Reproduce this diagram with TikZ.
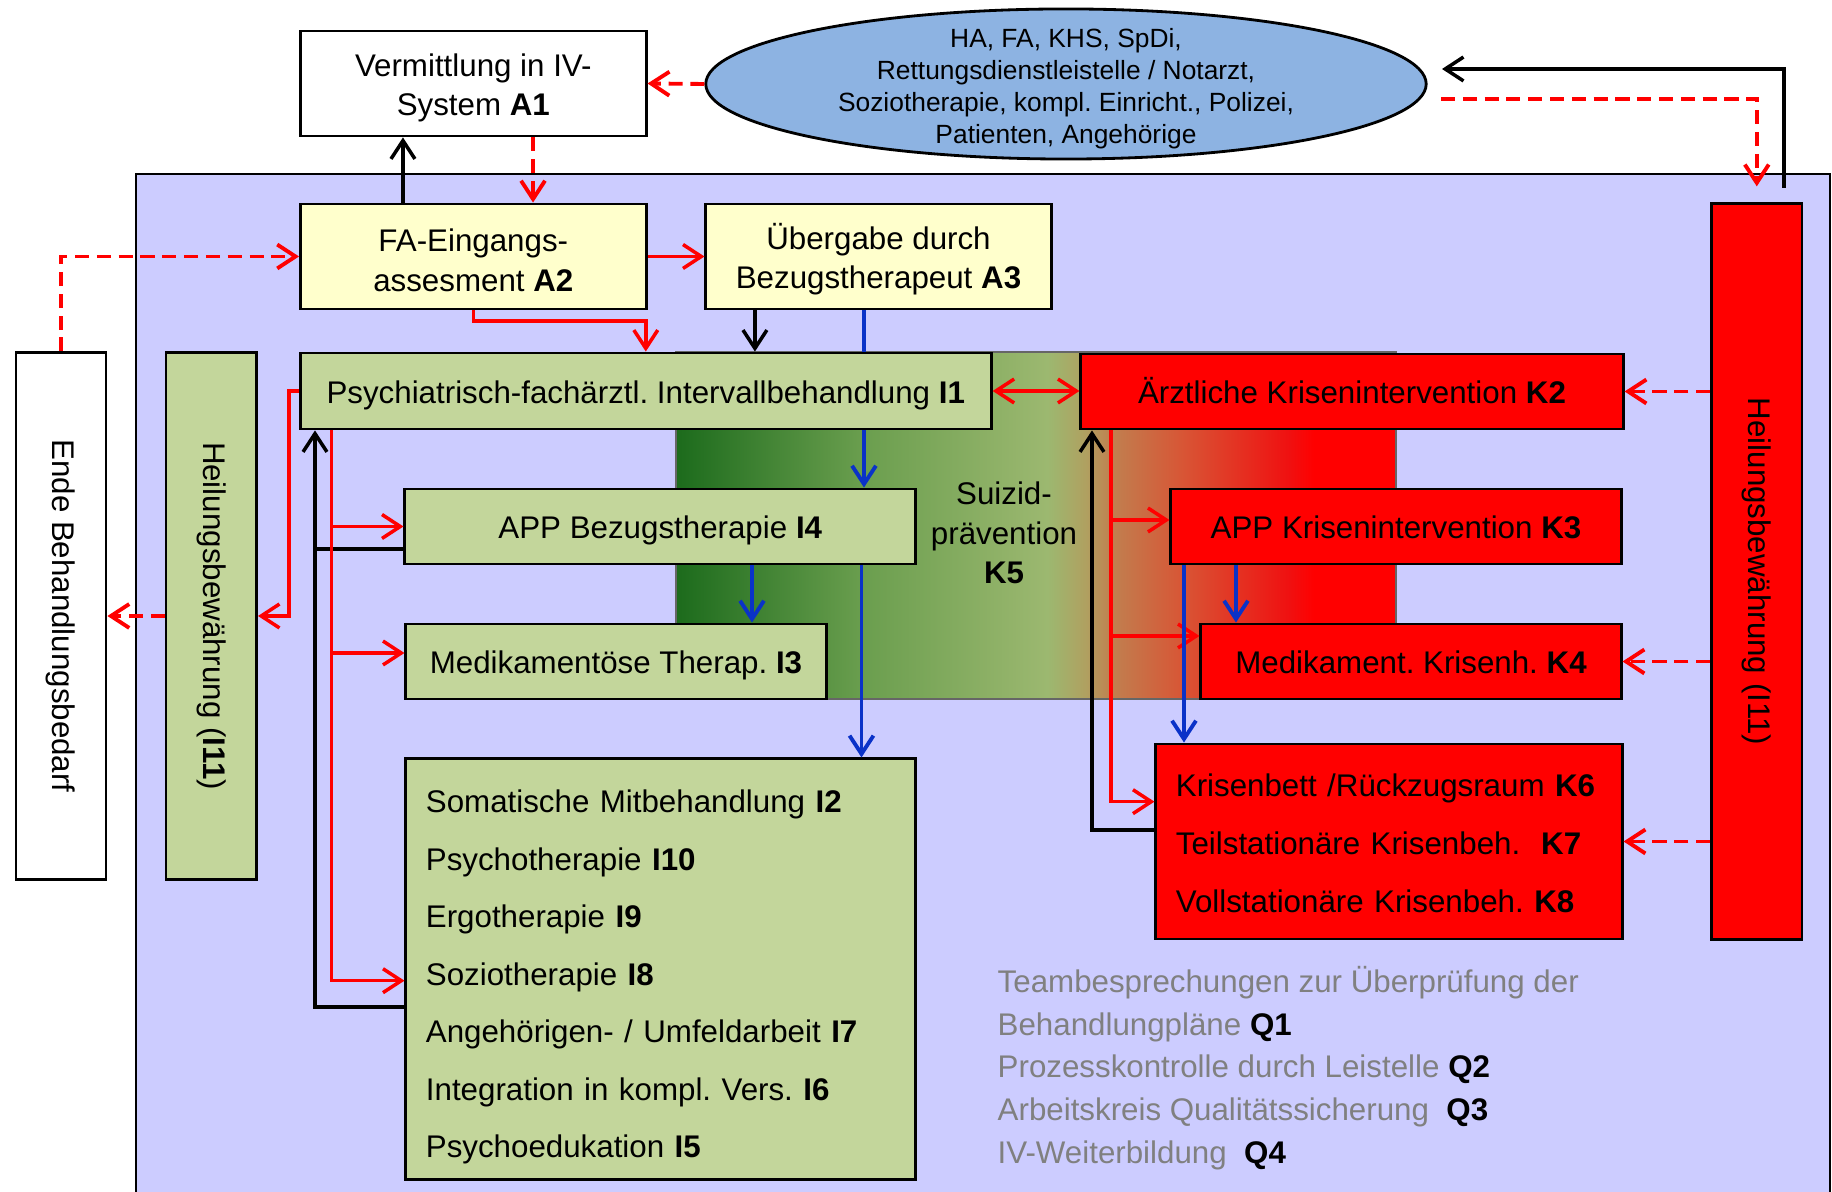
\documentclass[tikz,border=0pt]{standalone}
\usepackage{fontspec}
\setmainfont{Liberation Sans}
\usepackage{graphicx}
\usetikzlibrary{arrows.meta,shapes.geometric}
\definecolor{panelc}{HTML}{CCCCFF}
\definecolor{ellc}{HTML}{8DB3E2}
\definecolor{yelc}{HTML}{FFFFCC}
\definecolor{grnc}{HTML}{C3D69B}
\definecolor{bluec}{HTML}{0A32C8}
\definecolor{qgray}{HTML}{808080}
\definecolor{kA}{HTML}{1C6B1C}
\definecolor{kB}{HTML}{6A9E4E}
\definecolor{kC}{HTML}{9CB870}
\definecolor{kD}{HTML}{B0A060}
\definecolor{kE}{HTML}{C08050}
\definecolor{kF}{HTML}{D85535}
\definecolor{kG}{HTML}{F01010}
\pgfdeclarehorizontalshading{kfive}{100bp}{color(0bp)=(kA); color(25bp)=(kA); color(37.9bp)=(kB); color(50.8bp)=(kC); color(53.5bp)=(kD); color(55.2bp)=(kE); color(60.2bp)=(kF); color(67.6bp)=(kG); color(69.3bp)=(red); color(100bp)=(red)}
\pgfdeclarelayer{back}
\pgfdeclarelayer{mid}
\pgfsetlayers{back,mid,main}
\newcommand{\fmain}{\fontsize{8.9}{11.3}\selectfont}
\newcommand{\topstrut}[1]{\rule{0pt}{#1}}
\begin{document}
\frenchspacing
\begin{tikzpicture}[x=0.01cm,y=-0.01cm,
  >={Straight Barb[length=5.2pt,width=6.8pt]},
  boxs/.style={draw=black,line width=0.8pt,inner sep=0pt,align=center,font=\fmain},
  one/.style={text height=8pt,text depth=0.9pt},
  ybox/.style={boxs,fill=yelc},
  gbox/.style={boxs,fill=grnc},
  rbox/.style={boxs,fill=red},
  wbox/.style={boxs,fill=white},
  rline/.style={draw=red,line width=1pt},
  rdash/.style={draw=red,line width=1.1pt,dash pattern=on 4pt off 2.2pt},
  bline/.style={draw=black,line width=1pt},
  bluel/.style={draw=bluec,line width=1.1pt}]
\useasboundingbox (0,0) rectangle (1832,1192);
\clip (0,0) rectangle (1832,1192);
\begin{pgfonlayer}{back}
  \fill[panelc] (136,174) rectangle (1830,1210);
  \draw[line width=0.8pt] (136,1210) -- (136,174) -- (1830,174) -- (1830,1210);
  \path[shading=kfive,draw=black!60,line width=0.4pt] (676,352) rectangle (1396,699);
\end{pgfonlayer}
% nodes
\node[wbox,minimum width=3.455cm,minimum height=1.05cm] (a1) at (473.3,83.5) {\topstrut{9pt}Vermittlung in IV-\\System \textbf{A1}};
\node[ellipse,draw=black,line width=0.8pt,fill=ellc,minimum width=7.2cm,minimum height=1.5cm,inner xsep=0pt,inner ysep=-0.15cm,align=center,font=\fontsize{7.5}{9.1}\selectfont] (ell) at (1066,84) {\topstrut{8pt}HA, FA, KHS, SpDi,\\Rettungsdienstleistelle / Notarzt,\\Soziotherapie, kompl. Einricht., Polizei,\\Patienten, Angehörige};
\node[ybox,minimum width=3.455cm,minimum height=1.05cm] (a2) at (473.3,256.5) {\topstrut{8.5pt}FA-Eingangs-\\assesment \textbf{A2}};
\node[ybox,minimum width=3.45cm,minimum height=1.05cm] (a3) at (878.5,256.5) {\topstrut{9pt}Übergabe durch\\Bezugstherapeut \textbf{A3}};
\node[gbox,one,minimum width=6.905cm,minimum height=0.76cm] (i1) at (645.8,391) {Psychiatrisch-fachärztl. Intervallbehandlung \textbf{I1}};
\node[rbox,one,minimum width=5.42cm,minimum height=0.75cm] (k2) at (1352,391.5) {Ärztliche Krisenintervention \textbf{K2}};
\node[gbox,one,minimum width=5.105cm,minimum height=0.75cm] (i4) at (660.3,526.5) {APP Bezugstherapie \textbf{I4}};
\node[rbox,one,minimum width=4.5cm,minimum height=0.75cm] (k3) at (1396,526.5) {APP Krisenintervention \textbf{K3}};
\node[gbox,one,minimum width=4.2cm,minimum height=0.75cm] (i3) at (616,661.5) {Medikamentöse Therap. \textbf{I3}};
\node[rbox,one,minimum width=4.2cm,minimum height=0.75cm] (k4) at (1411,661.5) {Medikament. Krisenh. \textbf{K4}};
\node[gbox,minimum width=5.095cm,minimum height=4.2cm,align=left,text width=4.695cm,inner xsep=0.2cm,font=\fontsize{8.9}{16.35}\selectfont] (i2) at (660.8,969) {\topstrut{11.1pt}Somatische Mitbehandlung \textbf{I2}\\Psychotherapie \textbf{I10}\\Ergotherapie \textbf{I9}\\Soziotherapie \textbf{I8}\\Angehörigen- / Umfeldarbeit \textbf{I7}\\Integration in kompl. Vers. \textbf{I6}\\Psychoedukation \textbf{I5}};
\node[rbox,minimum width=4.66cm,minimum height=1.95cm,align=left,text width=4.26cm,inner xsep=0.2cm,font=\fontsize{8.9}{16.5}\selectfont] (k6) at (1389,841.5) {\topstrut{7.6pt}Krisenbett /Rückzugsraum \textbf{K6}\\Teilstationäre Krisenbeh.\ \ \textbf{K7}\\Vollstationäre Krisenbeh. \textbf{K8}};
\node[wbox,minimum width=0.9cm,minimum height=5.26cm] (ende) at (61,616) {\rotatebox{-90}{Ende Behandlungsbedarf}};
\node[gbox,minimum width=0.905cm,minimum height=5.26cm] (heill) at (211.3,616) {\rotatebox{-90}{Heilungsbewährung (\textbf{I11})}};
\node[rbox,minimum width=0.905cm,minimum height=7.35cm] (heilr) at (1756.8,571.5) {\rotatebox{-90}{Heilungsbewährung (I11)}};
\node[align=center,font=\fmain,inner sep=0pt] (k5) at (1004,533) {Suizid-\\prävention\\\textbf{K5}};
\node[anchor=west,align=left,inner sep=0pt,text=qgray,font=\fontsize{8.9}{12.15}\selectfont] (q) at (997,1068) {Teambesprechungen zur Überprüfung der\\Behandlungpläne \textcolor{black}{\textbf{Q1}}\\Prozesskontrolle durch Leistelle \textcolor{black}{\textbf{Q2}}\\Arbeitskreis Qualitätssicherung\ \ \textcolor{black}{\textbf{Q3}}\\IV-Weiterbildung\ \ \textcolor{black}{\textbf{Q4}}};
% helper coordinates
\coordinate (c1) at (473.3,321);
\coordinate (a3b) at ([xshift=-1.235cm]a3.south);
\coordinate (a3c) at ([xshift=-0.145cm]a3.south);
\coordinate (hb) at (1784,188);
\coordinate (eb) at (1442,69);
\coordinate (er) at (1441,99);
\coordinate (hr) at ([yshift=0.16cm]heilr.north);
\coordinate (i1l) at (289,391);
\coordinate (bx) at (315,0);
\coordinate (rx) at (331.6,0);
\coordinate (i2b) at ([yshift=-0.38cm]i2.west);
\coordinate (i4b) at ([yshift=-0.225cm]i4.west);
\coordinate (i2r) at ([yshift=-0.117cm]i2.west);
\coordinate (i3r) at ([yshift=0.085cm]i3.west);
\coordinate (x752) at (752,0);
\coordinate (x861) at (861.5,0);
\coordinate (kx) at (1111,0);
\coordinate (kb) at (1092,0);
\coordinate (k6r) at ([yshift=0.398cm]k6.west);
\coordinate (k6b) at ([yshift=0.115cm]k6.west);
\coordinate (k3r) at ([yshift=0.065cm]k3.west);
\coordinate (k4r) at ([yshift=0.255cm]k4.west);
\coordinate (x1184) at (1184,0);
\coordinate (x1236) at (1236,0);
% blue line hidden behind I1
\begin{pgfonlayer}{mid}
  \draw[bluel,->] (a3c) -- (a3c |- i4.north);
\end{pgfonlayer}
% connectors
\draw[rdash,->] (ell.west) -- (a1.east);
\draw[bline,->] ([xshift=-0.703cm]a2.north) -- ([xshift=-0.703cm]a1.south);
\draw[rdash,->] ([xshift=0.597cm]a1.south) -- ([xshift=0.597cm]a2.north);
\draw[rdash,->] (ende.north) |- (a2.west);
\draw[rline,->] (a2.east) -- (a3.west);
\draw[rline,->] (a2.south) -- (c1) -| (i1.north);
\draw[bline,->] (a3b) -- (a3b |- i1.north);
\draw[rline,<->] (i1.east) -- (i1.east -| k2.west);
\draw[rdash,->] (heilr.west |- k2.east) -- (k2.east);
\draw[rdash,->] (heilr.west |- k4.east) -- (k4.east);
\draw[rdash,->] (heilr.west |- k6.east) -- (k6.east);
\draw[bline,->] (hb) |- (eb);
\draw[rdash,->] (er) -| (hr);
\draw[rline,->] (i1.west) -- (i1.west -| i1l) |- (heill.east);
\draw[rdash,->] (heill.west) -- (ende.east);
\draw[bline,->] (i2b) -| (i1.south -| bx);
\draw[bline] (i4b) -- (i4b -| bx);
\draw[rline,->] (i1.south -| rx) |- (i2r);
\draw[rline,->] (rx |- i4.west) -- (i4.west);
\draw[rline,->] (rx |- i3r) -- (i3r);
\draw[bluel,->] (i4.south -| x752) -- (i3.north -| x752);
\draw[bluel,->] (i4.south -| x861) -- (i2.north -| x861);
\draw[rline,->] (k2.south -| kx) |- (k6r);
\draw[rline,->] (kx |- k3r) -- (k3r);
\draw[rline,->] (kx |- k4r) -- (k4r);
\draw[bline,->] (k6b) -| (k2.south -| kb);
\draw[bluel,->] (k3.south -| x1184) -- (k6.north -| x1184);
\draw[bluel,->] (k3.south -| x1236) -- (k4.north -| x1236);
\end{tikzpicture}
\end{document}
